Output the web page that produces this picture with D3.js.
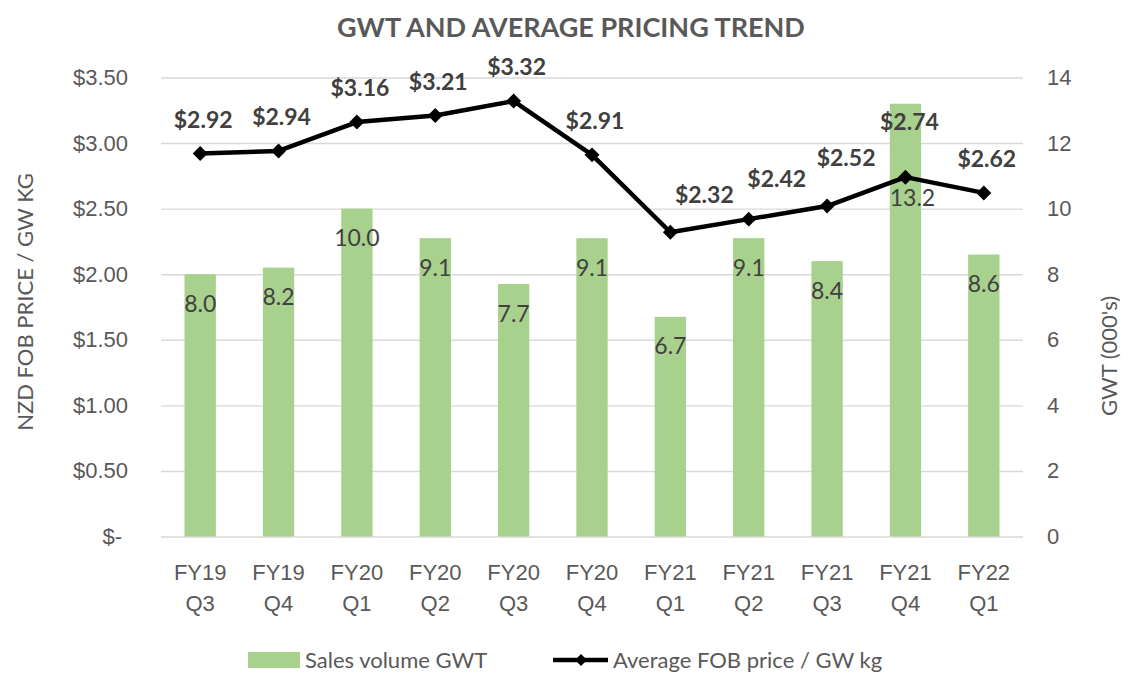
<!DOCTYPE html>
<html>
<head>
<meta charset="utf-8">
<script src="https://cdn.jsdelivr.net/npm/d3@7"></script>
<style>
  body { margin: 0; background: #fff; }
  svg { display: block; font-family: Lato, "Open Sans", sans-serif; }
</style>
</head>
<body>
<div id="container"></div>
<script>
const categories = ["FY19 Q3", "FY19 Q4", "FY20 Q1", "FY20 Q2", "FY20 Q3", "FY20 Q4",
  "FY21 Q1", "FY21 Q2", "FY21 Q3", "FY21 Q4", "FY22 Q1"]
const volumes = [8.0, 8.2, 10.0, 9.1, 7.7, 9.1, 6.7, 9.1, 8.4, 13.2, 8.6]
const prices = [2.92, 2.94, 3.16, 3.21, 3.32, 2.91, 2.32, 2.42, 2.52, 2.74, 2.62]
const priceTicks = [0, 0.5, 1, 1.5, 2, 2.5, 3, 3.5]
const volumeTicks = [0, 2, 4, 6, 8, 10, 12, 14]

const width = 1122
const height = 673
const plot = { left: 161, right: 1023, top: 77.5, bottom: 536.5 }

const green = '#A9D18E'
const grey = '#595959'
const dark = '#404040'

// labels that were dragged off their default spot in the original
const priceLabelShift = { "FY21 Q1": [34, 29], "FY21 Q2": [28, 32], "FY21 Q3": [19, 40], "FY21 Q4": [4, 47] }
const volumeLabelShift = { "FY21 Q4": [7, 102] }

const x = d3.scaleBand(categories, [plot.left, plot.right]).paddingInner(0.6).paddingOuter(0.3)
const yPrice = d3.scaleLinear([0, 3.5], [plot.bottom, plot.top])
const yVol = d3.scaleLinear([0, 14], [plot.bottom, plot.top])
const cx = c => x(c) + x.bandwidth() / 2

const svg = d3.select('#container')
  .append('svg')
  .attr('width', width)
  .attr('height', height)
  .attr('viewBox', [0, 0, width, height])

// left axis + gridlines
svg.append('g')
  .attr('transform', `translate(${plot.left},0)`)
  .call(d3.axisLeft(yPrice).tickValues(priceTicks)
    .tickSizeInner(-(plot.right - plot.left)).tickSizeOuter(0).tickPadding(33)
    .tickFormat(d => d === 0 ? '$-' : '$' + d3.format('.2f')(d)))
  .call(g => g.select('.domain').remove())
  .call(g => g.selectAll('.tick line').attr('stroke', '#D9D9D9').attr('stroke-width', 1.4))
  .call(g => g.selectAll('.tick text')
    .attr('fill', grey).attr('font-size', 22).attr('font-family', null)
    .filter(d => d === 0).attr('dx', -6))

// right axis
svg.append('g')
  .attr('transform', `translate(${plot.right},0)`)
  .call(d3.axisRight(yVol).tickValues(volumeTicks).tickSize(0).tickPadding(24))
  .call(g => g.select('.domain').remove())
  .call(g => g.selectAll('.tick text')
    .attr('fill', grey).attr('font-size', 22).attr('font-family', null))

// bottom axis, two-line labels
svg.append('g')
  .attr('transform', `translate(0,${plot.bottom})`)
  .call(d3.axisBottom(x).tickSize(0))
  .call(g => g.select('.domain').remove())
  .call(g => g.selectAll('.tick text')
    .attr('fill', grey).attr('font-size', 22).attr('font-family', null)
    .attr('dy', null).attr('y', null)
    .each(function (d) {
      const t = d3.select(this).text(null)
      d.split(' ').forEach((part, i) => {
        t.append('tspan').attr('x', 0).attr('y', 43.5 + i * 31).text(part)
      })
    }))

// bars
svg.append('g')
  .selectAll('rect')
  .data(categories)
  .join('rect')
  .attr('x', d => x(d))
  .attr('width', x.bandwidth())
  .attr('y', (d, i) => yVol(volumes[i]))
  .attr('height', (d, i) => yVol(0) - yVol(volumes[i]))
  .attr('fill', green)

svg.append('g')
  .selectAll('text')
  .data(categories)
  .join('text')
  .attr('x', d => cx(d) + (volumeLabelShift[d] ? volumeLabelShift[d][0] : 0))
  .attr('y', (d, i) => yVol(volumes[i]) + (volumeLabelShift[d] ? volumeLabelShift[d][1] : 37.5))
  .attr('text-anchor', 'middle')
  .attr('font-size', 23)
  .attr('fill', dark)
  .text((d, i) => d3.format('.1f')(volumes[i]))

// price line
const line = d3.line()
  .x(d => cx(d))
  .y((d, i) => yPrice(prices[i]))

svg.append('path')
  .datum(categories)
  .attr('d', line)
  .attr('fill', 'none')
  .attr('stroke', '#000')
  .attr('stroke-width', 4.5)
  .attr('stroke-linejoin', 'round')

const diamond = d3.symbol(d3.symbolSquare, 112)

svg.append('g')
  .selectAll('path')
  .data(categories)
  .join('path')
  .attr('d', diamond)
  .attr('transform', (d, i) => `translate(${cx(d)},${yPrice(prices[i])}) rotate(45)`)
  .attr('fill', '#000')

svg.append('g')
  .selectAll('text')
  .data(categories)
  .join('text')
  .attr('x', d => cx(d) + (priceLabelShift[d] ? priceLabelShift[d][0] : 3))
  .attr('y', (d, i) => yPrice(prices[i]) - (priceLabelShift[d] ? priceLabelShift[d][1] : 26))
  .attr('text-anchor', 'middle')
  .attr('font-size', 23)
  .attr('font-weight', 'bold')
  .attr('fill', dark)
  .text((d, i) => '$' + d3.format('.2f')(prices[i]))

// title and axis titles
svg.append('text')
  .attr('x', 571)
  .attr('y', 37)
  .attr('text-anchor', 'middle')
  .attr('font-size', 27)
  .attr('font-weight', 'bold')
  .attr('fill', grey)
  .text('GWT AND AVERAGE PRICING TREND')

svg.append('text')
  .attr('transform', `translate(33,302) rotate(-90)`)
  .attr('text-anchor', 'middle')
  .attr('font-size', 22)
  .attr('fill', grey)
  .text('NZD FOB PRICE / GW KG')

svg.append('text')
  .attr('transform', `translate(1117,356) rotate(-90)`)
  .attr('text-anchor', 'middle')
  .attr('font-size', 22)
  .attr('fill', grey)
  .text("GWT (000's)")

// legend
const legend = svg.append('g')
legend.append('rect')
  .attr('x', 248).attr('y', 652).attr('width', 52).attr('height', 16)
  .attr('fill', green)
legend.append('text')
  .attr('x', 305).attr('y', 668)
  .attr('font-size', 22).attr('fill', grey)
  .text('Sales volume GWT')
legend.append('line')
  .attr('x1', 553).attr('x2', 608).attr('y1', 660).attr('y2', 660)
  .attr('stroke', '#000').attr('stroke-width', 4.5)
legend.append('path')
  .attr('d', d3.symbol(d3.symbolSquare, 72)())
  .attr('transform', 'translate(581,660) rotate(45)')
  .attr('fill', '#000')
legend.append('text')
  .attr('x', 613).attr('y', 668)
  .attr('font-size', 22).attr('fill', grey)
  .text('Average FOB price / GW kg')
</script>
</body>
</html>
